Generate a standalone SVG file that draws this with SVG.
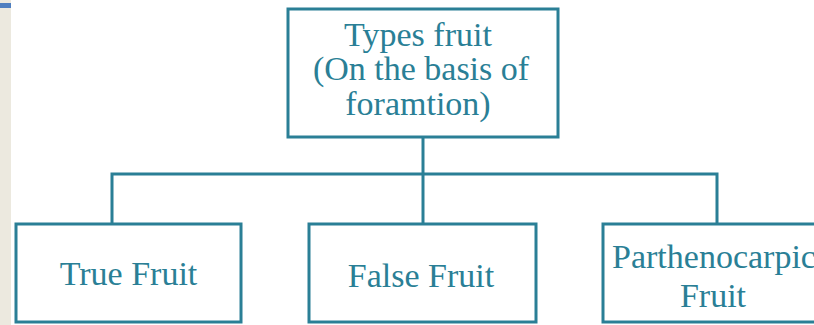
<svg xmlns="http://www.w3.org/2000/svg" width="814" height="325" viewBox="0 0 814 325">
<style>
.box{fill:#ffffff;stroke:#2a7f96;stroke-width:3}
.ln{fill:none;stroke:#2a7f96;stroke-width:3}
.t{font-family:"Liberation Serif","Times New Roman",serif;font-size:34px;fill:#2a7f96;text-anchor:middle}
</style>
<rect x="0" y="0" width="814" height="325" fill="#ffffff"/>
<rect x="0" y="0" width="11" height="325" fill="#ece9df"/>
<rect x="0" y="3" width="11" height="5" fill="#4f7fc0"/>
<g id="connectors">
<path class="ln" d="M423,137 V224"/>
<path class="ln" d="M112,224 V174 H717 V224"/>
</g>
<g id="root">
<rect class="box" x="288" y="9" width="270" height="128"/>
<text class="t" x="418" y="46">Types fruit</text>
<text class="t" x="421" y="80">(On the basis of</text>
<text class="t" x="418" y="115">foramtion)</text>
</g>
<g id="true-fruit">
<rect class="box" x="16" y="224" width="225" height="98"/>
<text class="t" x="128.5" y="285">True Fruit</text>
</g>
<g id="false-fruit">
<rect class="box" x="309" y="224" width="227" height="98"/>
<text class="t" x="421" y="287">False Fruit</text>
</g>
<g id="parthenocarpic-fruit">
<rect class="box" x="603" y="224" width="230" height="98"/>
<text class="t" x="714" y="268">Parthenocarpic</text>
<text class="t" x="713" y="307">Fruit</text>
</g>
</svg>
